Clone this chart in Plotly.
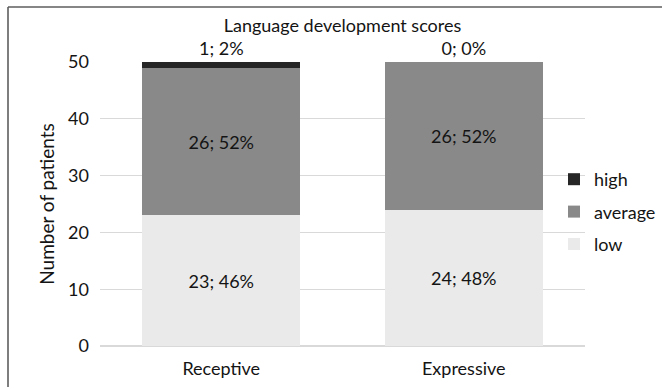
import plotly.graph_objects as go

# Language development scores per domain
categories = ["Receptive", "Expressive"]
low = [23, 24]
average = [26, 26]
high = [1, 0]
total_patients = 50

# name, values, colour, label position, legend rank
series = [
    ("low", low, "#eaeaea", "inside", 3),
    ("average", average, "#898989", "inside", 2),
    ("high", high, "#262626", "outside", 1),
]

FONT = "Lato, Carlito, Calibri, sans-serif"
TEXT = "#141414"
FS = 18

fig = go.Figure()
for name, vals, color, pos, rank in series:
    labels = [f"{v}; {round(v / total_patients * 100)}%" for v in vals]
    fig.add_trace(go.Bar(
        name=name,
        x=categories,
        y=vals,
        marker=dict(color=color, line=dict(width=0)),
        text=labels,
        texttemplate="%{text}",
        textposition=pos,
        insidetextanchor="middle",
        textfont=dict(family=FONT, size=FS, color=TEXT),
        cliponaxis=False,
        legendrank=rank,
        legendgroup=name,
    ))

L, R, T, B = 100, 77, 62, 41
W, H = 662, 387
pw, ph = W - L - R, H - T - B

def px(x):
    return (x - L) / pw

def py(y):
    return (H - B - y) / ph

fig.update_layout(
    width=W, height=H,
    margin=dict(l=L, r=R, t=T, b=B, autoexpand=False),
    barmode="stack",
    bargap=0.35,
    paper_bgcolor="white",
    plot_bgcolor="white",
    font=dict(family=FONT, size=FS, color=TEXT),
    uniformtext=dict(minsize=FS, mode="show"),
    title=dict(text="Language development scores", x=0.5, xref="paper",
               y=1 - 26 / H, yanchor="middle",
               font=dict(family=FONT, size=FS, color=TEXT)),
    legend=dict(x=px(554), y=py(212), yanchor="middle", xanchor="left",
                traceorder="grouped", tracegroupgap=6,
                font=dict(family=FONT, size=FS, color=TEXT),
                bgcolor="rgba(0,0,0,0)", itemwidth=30),
    xaxis=dict(showline=False, ticks="", tickfont=dict(size=FS),
               ticklabelstandoff=10, showgrid=False, zeroline=False),
    yaxis=dict(range=[0, 50], dtick=10, showgrid=True, gridcolor="#d9d9d9",
               gridwidth=1, zeroline=True, zerolinecolor="#d9d9d9",
               showline=False, ticks="", tickfont=dict(size=FS),
               ticklabelstandoff=10,
               title=dict(text="Number of patients", font=dict(size=19), standoff=8)),
    shapes=[
        dict(type="line", xref="paper", yref="paper",
             x0=px(8), x1=px(700), y0=py(7), y1=py(7),
             line=dict(color="#5e5e5e", width=1.6)),
        dict(type="line", xref="paper", yref="paper",
             x0=px(8), x1=px(8), y0=py(7), y1=py(420),
             line=dict(color="#5e5e5e", width=1.6)),
    ],
    showlegend=True,
)

fig.write_html("out.html")
